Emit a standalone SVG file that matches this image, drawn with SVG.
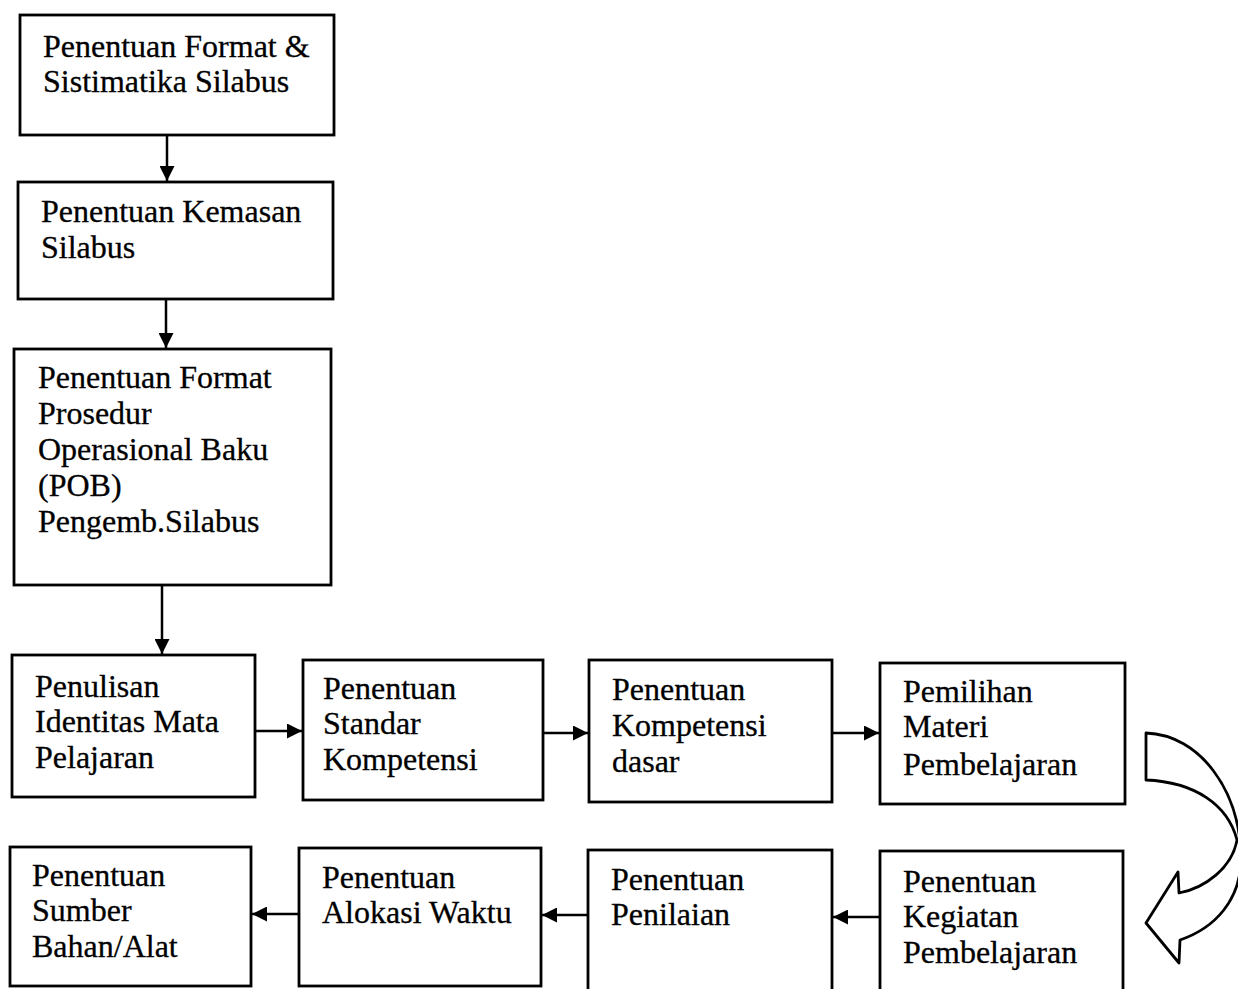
<svg xmlns="http://www.w3.org/2000/svg" width="1238" height="989" viewBox="0 0 1238 989">
<style>
.box{fill:#fff;stroke:#000;stroke-width:2.8}
.t{font-family:"Liberation Serif","Times New Roman",serif;font-size:32px;fill:#000;stroke:#000;stroke-width:0.3}
.c{stroke:#000;stroke-width:2.5;fill:none}
</style>
<defs>
<marker id="ah" viewBox="0 0 10 10" refX="10" refY="5" markerWidth="17" markerHeight="15" markerUnits="userSpaceOnUse" orient="auto">
<path d="M0,0 L10,5 L0,10 Z" fill="#000"/>
</marker>
</defs>
<rect width="1238" height="989" fill="#fff"/>
<g id="connectors">
<line class="c" x1="167" y1="135" x2="167" y2="181" marker-end="url(#ah)"/>
<line class="c" x1="166" y1="299" x2="166" y2="348" marker-end="url(#ah)"/>
<line class="c" x1="162" y1="585" x2="162" y2="654" marker-end="url(#ah)"/>
<line class="c" x1="255" y1="731" x2="302" y2="731" marker-end="url(#ah)"/>
<line class="c" x1="543" y1="733" x2="588" y2="733" marker-end="url(#ah)"/>
<line class="c" x1="832" y1="733" x2="879" y2="733" marker-end="url(#ah)"/>
<line class="c" x1="880" y1="917" x2="833" y2="917" marker-end="url(#ah)"/>
<line class="c" x1="588" y1="915" x2="542" y2="915" marker-end="url(#ah)"/>
<line class="c" x1="299" y1="914" x2="252" y2="914" marker-end="url(#ah)"/>
<path d="M1146,733 C1200,735 1240,790 1241,858 C1241,900 1215,928 1180,940 L1179,963 L1146,923 L1178,872 L1179,893 C1205,888 1232,868 1237,840 C1228,805 1195,782 1146,780 Z" fill="#fff" stroke="#000" stroke-width="2.8" stroke-linejoin="round"/>
</g>
<g id="n1"><rect class="box" x="20" y="15" width="314" height="120"/>
<text class="t" x="43" y="57">Penentuan Format &amp;</text><text class="t" x="43" y="92">Sistimatika Silabus</text></g>
<g id="n2"><rect class="box" x="18" y="182" width="315" height="117"/>
<text class="t" x="41" y="222">Penentuan Kemasan</text><text class="t" x="41" y="258">Silabus</text></g>
<g id="n3"><rect class="box" x="14" y="349" width="317" height="236"/>
<text class="t" x="38" y="388">Penentuan Format</text><text class="t" x="38" y="424">Prosedur</text><text class="t" x="38" y="460">Operasional Baku</text><text class="t" x="38" y="496">(POB)</text><text class="t" x="38" y="532">Pengemb.Silabus</text></g>
<g id="n4"><rect class="box" x="12" y="655" width="243" height="142"/>
<text class="t" x="35" y="697">Penulisan</text><text class="t" x="35" y="732">Identitas Mata</text><text class="t" x="35" y="768">Pelajaran</text></g>
<g id="n5"><rect class="box" x="303" y="660" width="240" height="140"/>
<text class="t" x="323" y="699">Penentuan</text><text class="t" x="323" y="734">Standar</text><text class="t" x="323" y="770">Kompetensi</text></g>
<g id="n6"><rect class="box" x="589" y="660" width="243" height="142"/>
<text class="t" x="612" y="700">Penentuan</text><text class="t" x="612" y="736">Kompetensi</text><text class="t" x="612" y="772">dasar</text></g>
<g id="n7"><rect class="box" x="880" y="663" width="245" height="141"/>
<text class="t" x="903" y="702">Pemilihan</text><text class="t" x="903" y="737">Materi</text><text class="t" x="903" y="775">Pembelajaran</text></g>
<g id="n8"><rect class="box" x="10" y="847" width="241" height="139"/>
<text class="t" x="32" y="886">Penentuan</text><text class="t" x="32" y="921">Sumber</text><text class="t" x="32" y="957">Bahan/Alat</text></g>
<g id="n9"><rect class="box" x="299" y="848" width="242" height="138"/>
<text class="t" x="322" y="888">Penentuan</text><text class="t" x="322" y="923">Alokasi Waktu</text></g>
<g id="n10"><rect class="box" x="588" y="850" width="244" height="150"/>
<text class="t" x="611" y="890">Penentuan</text><text class="t" x="611" y="925">Penilaian</text></g>
<g id="n11"><rect class="box" x="880" y="851" width="243" height="150"/>
<text class="t" x="903" y="892">Penentuan</text><text class="t" x="903" y="927">Kegiatan</text><text class="t" x="903" y="963">Pembelajaran</text></g>
</svg>
